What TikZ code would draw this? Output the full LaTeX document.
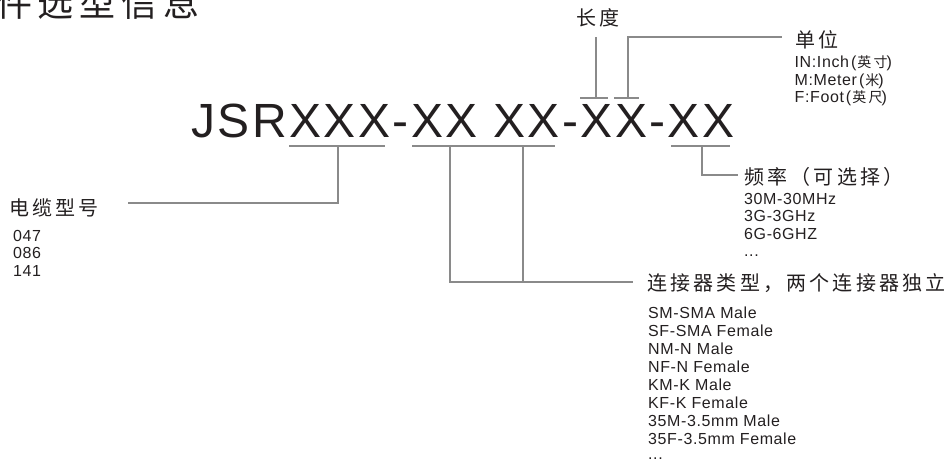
\documentclass[tikz,border=0pt]{standalone}
\usepackage{fontspec}
\setmainfont{Liberation Sans}
\newfontfamily\bigfont[LetterSpace=5.1]{Liberation Sans}
\newfontfamily\smallfont[LetterSpace=3.8]{Liberation Sans}
\newfontfamily\cjk[LetterSpace=16]{Noto Sans CJK SC}
\definecolor{ink}{HTML}{231F20}
\definecolor{ln}{HTML}{8A8A8A}
\newcommand{\smcjk}[1]{{\cjk\fontsize{14}{14}\selectfont #1}}
\begin{document}
\begin{tikzpicture}[x=1pt,y=-1pt,
  txt/.style={inner sep=0pt, anchor=base west, text=ink},
  lbl/.style={txt, font=\cjk\fontsize{20}{20}\selectfont},
  lst/.style={txt, font=\smallfont\fontsize{16}{17.5}\selectfont},
  conn/.style={draw=ln, line width=1.1pt}]
\useasboundingbox (0,0) rectangle (951,462);

% title (cut at top-left)
\node[txt, font=\cjk\fontsize{36}{36}\selectfont] (title) at (-4,17) {件选型信息};

% main code
\node[txt, font=\bigfont\fontsize{48}{48}\selectfont] (code) at (191,137.5) {JSRXXX-XX XX-XX-XX};

% labels
\node[lbl] (len) at (576,26) {长度};
\node[lbl] (unit) at (795,48) {单位};
\node[lbl] (freq) at (744,184.6) {频率（可选择）};
\node[lbl] (cable) at (9,215.6) {电缆型号};
\node[lbl] (ctype) at (647,290.6) {连接器类型，两个连接器独立};

% lists
\node[lst] (u0) at (794.5,68) {IN:Inch\kern2pt(\kern1pt\smcjk{英寸}\kern-1pt)};
\node[lst] (u1) at (794.5,85.5) {M:Meter\kern2pt(\kern1pt\smcjk{米}\kern-1pt)};
\node[lst] (u2) at (794.5,103) {F:Foot\kern2pt(\kern1pt\smcjk{英尺}\kern-1pt)};

\node[lst] (f0) at (744,204.5) {30M-30MHz};
\node[lst] (f1) at (744,222) {3G-3GHz};
\node[lst] (f2) at (744,239.5) {6G-6GHZ};
\node[lst] (f3) at (744,257) {...};

\node[lst] (k0) at (13,241.5) {047};
\node[lst] (k1) at (13,259) {086};
\node[lst] (k2) at (13,276.5) {141};

\node[lst] (s0) at (648,318.5) {SM-SMA Male};
\node[lst] (s1) at (648,336.5) {SF-SMA Female};
\node[lst] (s2) at (648,354.5) {NM-N Male};
\node[lst] (s3) at (648,372.5) {NF-N Female};
\node[lst] (s4) at (648,390.5) {KM-K Male};
\node[lst] (s5) at (648,408.5) {KF-K Female};
\node[lst] (s6) at (648,426.5) {35M-3.5mm Male};
\node[lst] (s7) at (648,444.5) {35F-3.5mm Female};
\node[lst] (s8) at (648,459.5) {...};

% bracket coordinates
\coordinate (a1) at (289,146); \coordinate (a2) at (385,146); \coordinate (am) at (338,146);
\coordinate (ae) at (128,203);
\coordinate (b1) at (412,146); \coordinate (b2) at (555,146);
\coordinate (bm1) at (450,146); \coordinate (bm2) at (523,146);
\coordinate (be) at (633,282);
\coordinate (c1) at (580,98); \coordinate (c2) at (608,98); \coordinate (cm) at (596,98); \coordinate (ct) at (596,37);
\coordinate (d1) at (614,98); \coordinate (d2) at (639,98); \coordinate (dm) at (628,98);
\coordinate (de) at (782,37);
\coordinate (e1) at (671,146); \coordinate (e2) at (730,146); \coordinate (em) at (702,146);
\coordinate (ee) at (738,175);

% connectors
\draw[conn] (a1) -- (a2);
\draw[conn] (am) |- (ae);
\draw[conn] (b1) -- (b2);
\draw[conn] (bm1) |- (be);
\draw[conn] (bm2) -- (bm2 |- be);
\draw[conn] (c1) -- (c2);
\draw[conn] (cm) -- (ct);
\draw[conn] (d1) -- (d2);
\draw[conn] (dm) |- (de);
\draw[conn] (e1) -- (e2);
\draw[conn] (em) |- (ee);
\end{tikzpicture}
\end{document}
